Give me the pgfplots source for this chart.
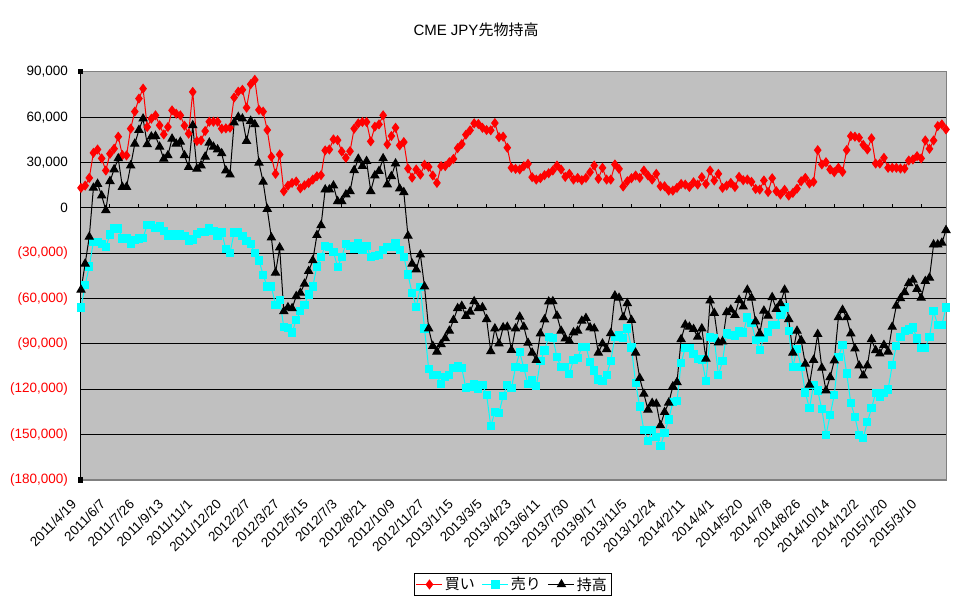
\documentclass[border=0pt]{standalone}
\usepackage{fontspec}
\setmainfont{Liberation Sans}
\newfontfamily\jp{Noto Sans CJK JP}
\usepackage{pgfplots}
\usepackage{pgfplotstable}
\pgfplotsset{compat=1.18}
\definecolor{plotgray}{RGB}{192,192,192}
\definecolor{bordergray}{RGB}{128,128,128}
\definecolor{xred}{RGB}{255,0,0}
\definecolor{xcyan}{RGB}{0,255,255}

\pgfplotstableread{
i buy sell net
0 13300 -65800 -54200
1 14800 -51100 -36900
2 19900 -38700 -19100
3 36500 -22400 13300
4 38700 -22400 15900
5 32800 -23600 8200
6 24800 -25800 -1500
7 35900 -17600 17700
8 39200 -13600 25500
9 47200 -13600 32800
10 35000 -20200 13900
11 34800 -20200 13900
12 52500 -23600 28100
13 63800 -21300 42500
14 72400 -20200 51600
15 79000 -19600 59100
16 53600 -11300 42100
17 59100 -11300 47200
18 61300 -13100 47600
19 54700 -12000 40500
20 48700 -15100 32500
21 53600 -18400 34800
22 64600 -17600 45800
23 62400 -18400 42500
24 61300 -17300 43800
25 54500 -18700 34800
26 49200 -21800 27000
27 76800 -20900 54700
28 44300 -17300 25900
29 44700 -15800 28100
30 50900 -15800 33900
31 57100 -13600 43200
32 57100 -15100 40500
33 57100 -18400 38700
34 52500 -16200 36100
35 52700 -27300 24800
36 53100 -29800 22100
37 73100 -16200 56500
38 77000 -16200 60200
39 78200 -18700 59100
40 66400 -21800 44300
41 81900 -24000 57600
42 84800 -29600 55300
43 64900 -34700 29900
44 63800 -44200 17300
45 51600 -52000 -700
46 33900 -52000 -19600
47 22600 -64200 -42900
48 35400 -60700 -26200
49 11100 -78700 -68400
50 14800 -79600 -65800
51 16600 -82400 -66400
52 17500 -74200 -58400
53 13000 -68400 -56200
54 15000 -64200 -50200
55 16600 -57300 -41800
56 18800 -52000 -34700
57 21000 -38700 -18000
58 21700 -32400 -11500
59 38100 -25100 12200
60 38700 -25800 12200
61 45400 -29100 14800
62 44900 -39100 4400
63 37400 -32400 4400
64 33200 -23600 8900
65 37600 -25100 11100
66 52500 -26900 25000
67 56000 -23100 32500
68 56900 -28000 27700
69 56900 -25100 31000
70 44100 -32400 11100
71 53800 -32000 21500
72 55300 -30900 24400
73 61300 -28000 32800
74 42100 -25800 15500
75 47600 -25800 21000
76 53100 -23100 29400
77 41400 -28000 12800
78 43600 -32400 10400
79 26100 -44000 -18400
80 20100 -56400 -36900
81 25500 -65300 -40700
82 22100 -52400 -30900
83 28600 -79800 -52000
84 27200 -106400 -79800
85 21500 -110600 -91300
86 16600 -110600 -95100
87 27700 -116600 -90200
88 27700 -112000 -86200
89 30300 -110400 -81300
90 32500 -106000 -74200
91 39600 -104700 -66400
92 42300 -106000 -64900
93 48500 -119200 -71500
94 51400 -118600 -68700
95 56000 -116600 -61800
96 55600 -119900 -66400
97 53100 -117000 -65800
98 51600 -123600 -73600
99 51400 -144300 -94900
100 56200 -135100 -79800
101 46900 -135500 -89800
102 47200 -124500 -79100
103 39900 -117000 -78700
104 26600 -119200 -94000
105 25900 -105400 -79800
106 25500 -95500 -72000
107 27700 -106000 -78700
108 29200 -116600 -89300
109 20400 -113700 -95800
110 18800 -117900 -100700
111 19700 -101400 -83100
112 21700 -94300 -73800
113 23000 -85300 -62000
114 24800 -85800 -61800
115 28100 -98700 -71300
116 25500 -105300 -81300
117 20600 -105300 -86400
118 22600 -109800 -88000
119 18800 -100400 -82400
120 19900 -99500 -81300
121 18400 -92000 -74700
122 19900 -92000 -72900
123 23700 -101700 -79100
124 28100 -107600 -79800
125 19300 -113500 -95800
126 26600 -114600 -89800
127 18800 -110600 -93500
128 18800 -101100 -82900
129 28800 -85600 -58000
130 25900 -84200 -59500
131 14200 -85800 -72400
132 17700 -79800 -63100
133 19700 -92300 -74200
134 21500 -115900 -95800
135 19900 -131300 -112600
136 24800 -147100 -123000
137 21500 -154200 -133500
138 18800 -147100 -129100
139 22600 -151500 -129600
140 14400 -157700 -143900
141 14400 -148800 -135100
142 11500 -139900 -128900
143 11500 -128500 -118100
144 13300 -127800 -115300
145 15900 -102500 -86900
146 15500 -92400 -77300
147 13900 -92400 -78700
148 17000 -96400 -80200
149 15500 -99800 -85300
150 20400 -100200 -79800
151 15900 -114600 -99800
152 24800 -85300 -61300
153 18200 -86200 -69500
154 22600 -110700 -89100
155 13300 -101300 -88400
156 14800 -83100 -69100
157 16600 -84000 -67300
158 13900 -84700 -70900
159 20600 -81300 -60900
160 18400 -82400 -65300
161 18800 -72400 -54200
162 17300 -76000 -59500
163 12600 -87100 -75100
164 12200 -93800 -83100
165 18200 -86200 -68000
166 10600 -81800 -71300
167 19700 -77300 -59100
168 11100 -77500 -66900
169 8900 -70900 -63100
170 12000 -65800 -54200
171 8200 -81300 -73600
172 10000 -105000 -95800
173 12800 -93300 -81300
174 17700 -105000 -87500
175 19900 -122100 -103200
176 16200 -132600 -117000
177 17300 -117000 -100600
178 38300 -120800 -83500
179 28800 -133100 -105800
180 30300 -150400 -120800
181 25500 -137000 -112000
182 23700 -123800 -101000
183 26600 -98400 -72400
184 23900 -90900 -67500
185 38300 -109500 -72400
186 47600 -129100 -83100
187 47200 -138500 -93100
188 46500 -150200 -104300
189 41800 -152200 -110900
190 38700 -141600 -104300
191 46100 -132600 -86900
192 29400 -122300 -94200
193 29400 -124700 -96400
194 33200 -122500 -90700
195 26600 -120100 -95100
196 26600 -104100 -78700
197 26600 -91100 -64700
198 26100 -85300 -59800
199 26100 -81300 -55800
200 31400 -80400 -49800
201 32100 -79100 -47600
202 34300 -86400 -53600
203 32800 -92400 -59500
204 44700 -92400 -48400
205 39200 -85300 -46200
206 44700 -68400 -24200
207 54200 -77500 -24200
208 55300 -77500 -23100
209 52000 -65800 -14700
}\data

\begin{document}
\begin{tikzpicture}
\useasboundingbox (-81pt,-124pt) rectangle (879pt,480pt);
\begin{axis}[
  at={(0pt,0pt)}, anchor=south west,
  scale only axis, width=865pt, height=408pt,
  xmin=0, xmax=209, ymin=-180000, ymax=90000,
  axis background/.style={fill=plotgray},
  axis line style={bordergray, line width=1pt},
  ytick={-180000,-150000,-120000,-90000,-60000,-30000,0,30000,60000,90000},
  yticklabels={\textcolor{xred}{(180,000)},\textcolor{xred}{(150,000)},\textcolor{xred}{(120,000)},\textcolor{xred}{(90,000)},\textcolor{xred}{(60,000)},\textcolor{xred}{(30,000)},0,{30,000},{60,000},{90,000}},
  xtick={0,7,...,203},
  xticklabels={2011/4/19,2011/6/7,2011/7/26,2011/9/13,2011/11/1,2011/12/20,2012/2/7,2012/3/27,2012/5/15,2012/7/3,2012/8/21,2012/10/9,2012/11/27,2013/1/15,2013/3/5,2013/4/23,2013/6/11,2013/7/30,2013/9/17,2013/11/5,2013/12/24,2014/2/11,2014/4/1,2014/5/20,2014/7/8,2014/8/26,2014/10/14,2014/12/2,2015/1/20,2015/3/10},
  major tick length=0pt,
  ymajorgrids, grid style={black, line width=1pt},
  tick label style={font=\fontsize{13.5}{15}\selectfont},
  yticklabel style={anchor=east, inner sep=0pt, xshift=-13pt},
  xticklabel style={anchor=east, inner sep=0pt, xshift=-7pt, yshift=-22pt, rotate=45},
  scaled y ticks=false,
  clip=false,
  legend columns=3,
  legend style={at={(0.4988,-0.256)}, anchor=center, draw=black, line width=0.8pt, fill=white,
    font=\jp\fontsize{15}{17}\selectfont, inner sep=2pt,
    /tikz/every even column/.append style={column sep=5pt}},
  legend image code/.code={\draw[mark repeat=2,mark phase=2,#1] plot coordinates {(0pt,0pt) (13pt,0pt) (26pt,0pt)};},
]
\addplot[xred, line width=1pt, mark=diamond*, mark size=4.3pt, mark options={solid, fill=xred, draw=xred}] table[x=i, y=buy] {\data};
\addlegendentry{買い}
\addplot[xcyan, line width=1pt, mark=square*, mark size=3.6pt, mark options={solid, fill=xcyan, draw=xcyan}] table[x=i, y=sell] {\data};
\addlegendentry{売り}
\addplot[black, line width=1pt, mark=triangle*, mark size=4.6pt, mark options={solid, fill=black, draw=black}] table[x=i, y=net] {\data};
\addlegendentry{持高}
\pgfplotsinvokeforeach{7,14,...,203}{\draw[black, line width=1pt] (axis cs:#1,0) -- ++(0pt,4pt);}
\draw[black, line width=1pt] (rel axis cs:0,0) -- (rel axis cs:0,1);
\fill[black] (rel axis cs:0,1) ++(-2.5pt,-2.5pt) rectangle ++(5pt,5pt);
\fill[black] (rel axis cs:0,0) ++(-2.5pt,-2.5pt) rectangle ++(5pt,5pt);
\end{axis}
\node[font=\fontsize{15}{18}\selectfont] at (395pt,450.5pt) {CME JPY{\jp 先物持高}};
\end{tikzpicture}
\end{document}
